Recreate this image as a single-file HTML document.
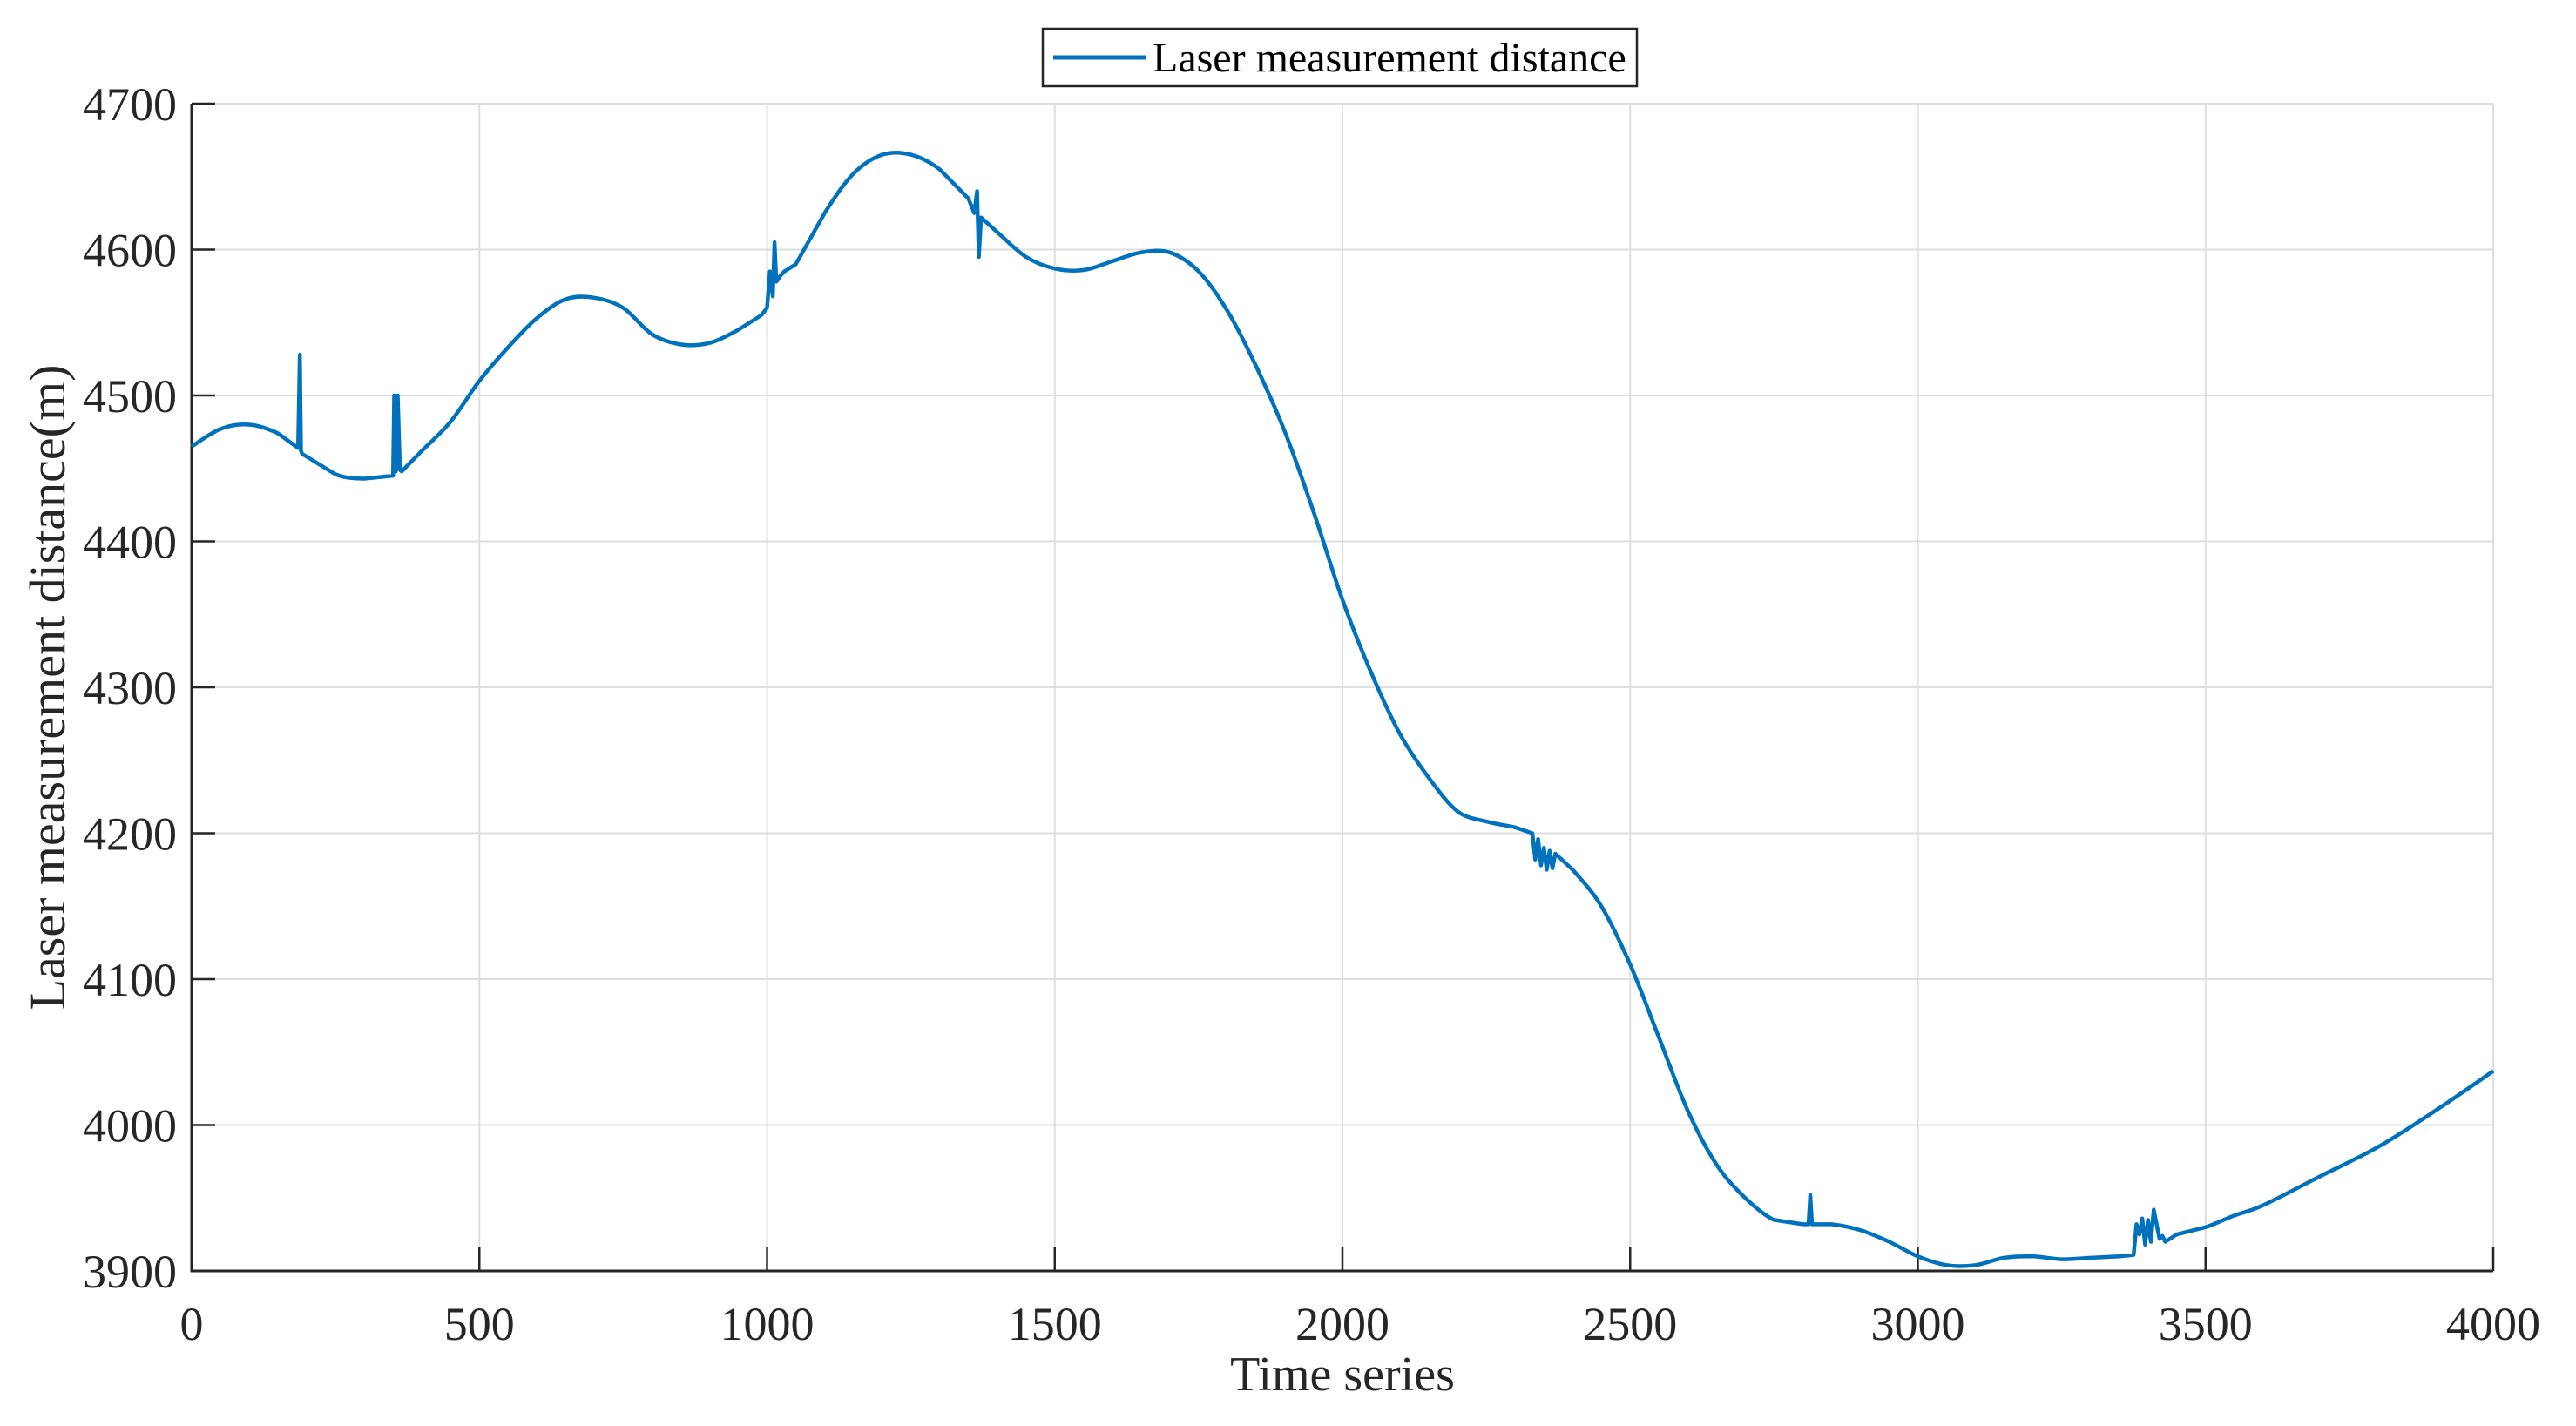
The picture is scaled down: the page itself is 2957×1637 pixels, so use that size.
<!DOCTYPE html>
<html><head><meta charset="utf-8"><style>
html,body{margin:0;padding:0;background:#fff;}
svg{display:block;font-family:"Liberation Serif",serif;}
</style></head><body>
<svg id="chart" width="2957" height="1637" viewBox="0 0 2957 1637"></svg>
<script>
const xTicks=[0,500,1000,1500,2000,2500,3000,3500,4000];
const yTicks=[3900,4000,4100,4200,4300,4400,4500,4600,4700];
const seriesX=[
0,50,100,150,185,188,190,192,250,300,
350,352,355,358,362,365,370,400,450,500,
550,600,650,700,750,800,850,900,950,990,
1000,1005,1010,1013,1016,1020,1023,1030,1050,1100,
1150,1200,1250,1300,1350,1360,1365,1368,1372,1400,
1450,1500,1550,1600,1650,1700,1750,1800,1850,1900,
1950,2000,2050,2100,2150,2200,2250,2300,2330,2335,
2340,2345,2350,2355,2360,2365,2370,2400,2450,2500,
2550,2600,2650,2700,2750,2800,2810,2813,2816,2850,
2900,2950,3000,3050,3100,3150,3200,3250,3300,3350,
3375,3380,3385,3390,3395,3400,3405,3410,3420,3425,
3430,3450,3500,3550,3600,3700,3800,3900,4000];
const seriesY=[
4465,4477,4480,4474,4464,4528,4462,4460,4446,4443,
4445,4500,4448,4500,4449,4448,4450,4462,4482,4510,
4533,4553,4566,4567,4560,4542,4535,4536,4545,4555,
4560,4585,4568,4605,4578,4580,4582,4585,4590,4625,
4652,4665,4665,4655,4635,4625,4640,4595,4622,4612,
4595,4587,4586,4592,4598,4598,4585,4558,4520,4475,
4420,4360,4310,4268,4238,4215,4208,4204,4200,4182,
4196,4178,4190,4175,4188,4176,4186,4175,4150,4110,
4060,4010,3973,3950,3935,3932,3932,3952,3932,3932,
3928,3920,3910,3904,3904,3909,3910,3908,3909,3910,
3911,3932,3925,3936,3918,3935,3920,3942,3922,3924,
3920,3925,3930,3938,3945,3965,3985,4010,4037];
const L=220,R=2862,T=119,B=1459;
const xS=v=>L+(v-0)/4000*(R-L);
const yS=v=>B-(v-3900)/800*(B-T);
const svg=document.getElementById('chart');
const NS='http://www.w3.org/2000/svg';
function mk(tag,attrs,parent){const e=document.createElementNS(NS,tag);for(const k in attrs)e.setAttribute(k,attrs[k]);(parent||svg).appendChild(e);return e;}
const grid=mk('g',{});


xTicks.forEach(t=>{const l=mk('line',{x1:xS(t),x2:xS(t),y1:T,y2:B,stroke:'#dedede','stroke-width':2},grid);

});
yTicks.forEach(t=>{const l=mk('line',{x1:L,x2:R,y1:yS(t),y2:yS(t),stroke:'#dedede','stroke-width':2},grid);

});
const axes=mk('path',{d:`M${L},${T}V${B}H${R}`,fill:'none',stroke:'#262626','stroke-width':3});


xTicks.forEach(t=>{const tk=mk('line',{x1:xS(t),x2:xS(t),y1:B,y2:B-27,stroke:'#262626','stroke-width':2.5});


const tx=mk('text',{x:xS(t),y:1538,'font-size':54,'text-anchor':'middle',fill:'#262626'});tx.textContent=t;

});
yTicks.forEach(t=>{const tk=mk('line',{x1:L,x2:L+27,y1:yS(t),y2:yS(t),stroke:'#262626','stroke-width':2.5});


const tx=mk('text',{x:203,y:yS(t)+19,'font-size':54,'text-anchor':'end',fill:'#262626'});tx.textContent=t;

});
// smooth path (Catmull-Rom) except around short spike segments
const P=seriesX.map((x,i)=>[xS(x),yS(seriesY[i])]);
let d='M'+P[0][0].toFixed(1)+','+P[0][1].toFixed(1);
for(let i=0;i<P.length-1;i++){
  const dx=seriesX[i+1]-seriesX[i];
  const p0=P[i-1]||P[i],p1=P[i],p2=P[i+1],p3=P[i+2]||P[i+1];
  const smooth=dx>=25&&(i===0||seriesX[i]-seriesX[i-1]>=25)&&(i+2>=P.length||seriesX[i+2]-seriesX[i+1]>=25);
  if(smooth){
    const c1=[p1[0]+(p2[0]-p0[0])/6,p1[1]+(p2[1]-p0[1])/6];
    const c2=[p2[0]-(p3[0]-p1[0])/6,p2[1]-(p3[1]-p1[1])/6];
    d+=`C${c1[0].toFixed(1)},${c1[1].toFixed(1)} ${c2[0].toFixed(1)},${c2[1].toFixed(1)} ${p2[0].toFixed(1)},${p2[1].toFixed(1)}`;
  } else d+=`L${p2[0].toFixed(1)},${p2[1].toFixed(1)}`;
}
const line=mk('path',{d:d,fill:'none',stroke:'#0072BD','stroke-width':4.5,'stroke-linejoin':'round'});


const xl=mk('text',{x:(L+R)/2,y:1596,'font-size':56,'text-anchor':'middle',fill:'#262626'});xl.textContent='Time series';


const yl=mk('text',{x:0,y:0,'font-size':58,'text-anchor':'middle',fill:'#262626',transform:`translate(74,${(T+B)/2}) rotate(-90)`});yl.textContent='Laser measurement distance(m)';


const lg=mk('g',{});


mk('rect',{x:1197,y:33,width:682,height:66,fill:'#fff',stroke:'#262626','stroke-width':2.5},lg);
const ll=mk('line',{x1:1209,x2:1315,y1:66,y2:66,stroke:'#0072BD','stroke-width':5},lg);


const lt=mk('text',{x:1323,y:82,'font-size':48,fill:'#000'},lg);lt.textContent='Laser measurement distance';


</script>
</body></html>
